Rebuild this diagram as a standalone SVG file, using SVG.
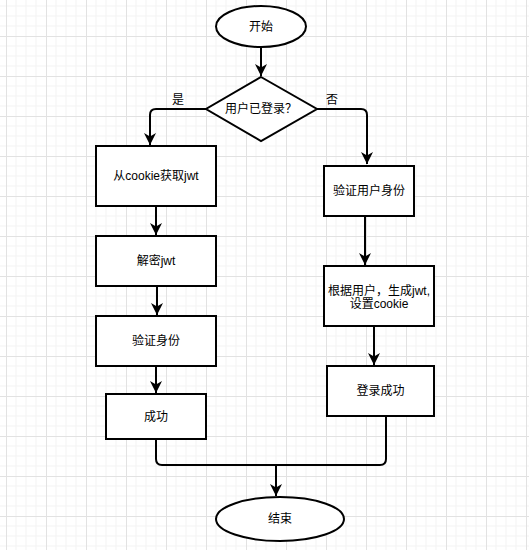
<svg xmlns="http://www.w3.org/2000/svg" width="529" height="550" viewBox="0 0 529 550">
<defs>
<pattern id="grid" x="6" y="-4" width="40" height="40" patternUnits="userSpaceOnUse">
<path d="M10,0V40M20,0V40M30,0V40M0,10H40M0,20H40M0,30H40" stroke="#f3f3f3" stroke-width="1" fill="none"/>
<path d="M0.5,0V40M0,0.5H40" stroke="#e2e2e2" stroke-width="1" fill="none"/>
</pattern>
<marker id="arr" markerUnits="userSpaceOnUse" markerWidth="12" markerHeight="12" viewBox="0 0 10 10" refX="10" refY="5" orient="auto">
<path d="M0,0 L10,5 L0,10 L3,5 Z" fill="#000"/>
</marker>
<style>
.shape{fill:#fff;stroke:#000;stroke-width:2}
.edge{fill:none;stroke:#000;stroke-width:2}
.arrow{marker-end:url(#arr)}
text{font-family:"Liberation Sans","Noto Sans CJK SC",sans-serif;font-size:12px;fill:#000;text-anchor:middle;dominant-baseline:central}
</style>
</defs>
<rect width="529" height="550" fill="#fff"/>
<rect width="529" height="550" fill="url(#grid)"/>
<g id="connectors">
<path class="edge arrow" d="M261,47 V76"/>
<path class="edge arrow" d="M206,109 H156 Q150,109 150,115 V145"/>
<path class="edge arrow" d="M317,109 H361 Q367,109 367,115 V164"/>
<path class="edge arrow" d="M156,206 V235"/>
<path class="edge arrow" d="M157,286 V315"/>
<path class="edge arrow" d="M156,366 V393"/>
<path class="edge arrow" d="M365,216 V265"/>
<path class="edge arrow" d="M374,326 V365"/>
<path class="edge" d="M156,439 V459 Q156,465 162,465 H380 Q386,465 386,459 V416"/>
<path class="edge arrow" d="M276,465 V496"/>
<text x="178" y="100">是</text>
<text x="332" y="100">否</text>
</g>
<g id="start">
<ellipse class="shape" cx="261" cy="26.5" rx="45" ry="20.5"/>
<text x="261" y="27">开始</text>
</g>
<g id="decision">
<polygon class="shape" points="261,77 317,109 261,141 206,109"/>
<text x="261" y="109">用户已登录？</text>
</g>
<g id="getjwt">
<rect class="shape" x="96" y="146" width="120" height="60"/>
<text x="156" y="176">从cookie获取jwt</text>
</g>
<g id="decode">
<rect class="shape" x="96" y="236" width="120" height="50"/>
<text x="156" y="261">解密jwt</text>
</g>
<g id="verify">
<rect class="shape" x="96" y="316" width="120" height="50"/>
<text x="156" y="341">验证身份</text>
</g>
<g id="success">
<rect class="shape" x="106" y="394" width="100" height="45"/>
<text x="156" y="416.5">成功</text>
</g>
<g id="verifyuser">
<rect class="shape" x="324" y="166" width="90" height="50"/>
<text x="369" y="191">验证用户身份</text>
</g>
<g id="genjwt">
<rect class="shape" x="324" y="266" width="110" height="60"/>
<text x="379" y="291">根据用户，生成jwt,</text>
<text x="379" y="304">设置cookie</text>
</g>
<g id="loginok">
<rect class="shape" x="327" y="366" width="107" height="50"/>
<text x="380.5" y="391">登录成功</text>
</g>
<g id="end">
<ellipse class="shape" cx="280" cy="519" rx="64" ry="22"/>
<text x="280" y="519">结束</text>
</g>
</svg>
